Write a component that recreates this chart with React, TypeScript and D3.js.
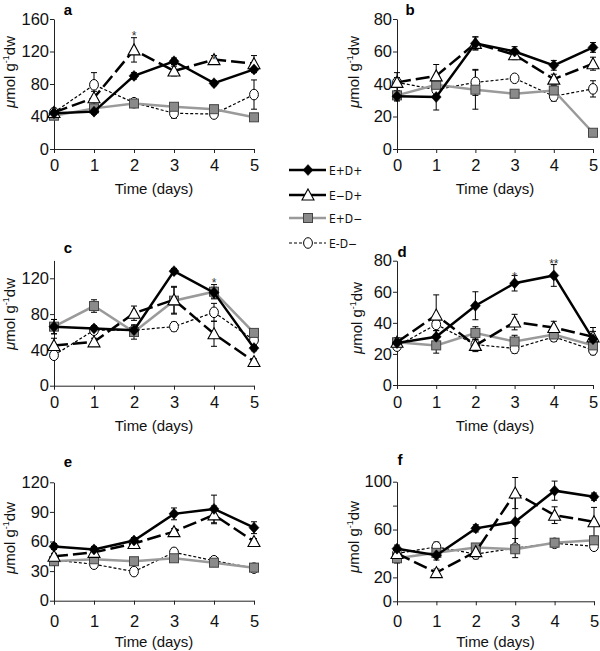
import React, { useEffect, useRef } from "react";
import * as d3 from "d3";

const days = [0, 1, 2, 3, 4, 5];
const seriesNames = ["E+D+", "E\u2212D+", "E+D\u2212", "E-D\u2212"];

// panel a
const aEpDp = [44, 46, 90, 108, 81, 98];
const aEmDp = [45, 63, 122, 96, 110, 105];
const aEpDm = [41, 50, 56, 52, 49, 39];
const aEmDm = [45, 79, 57, 44, 43, 67];
const aErrEpDp = [3, 3, 4, 4, 3, 4];
const aErrEmDp = [3, 8, 15, 6, 5, 10];
const aErrEpDm = [3, 4, 5, 4, 4, 3];
const aErrEmDm = [3, 15, 4, 6, 3, 18];

// panel b
const bEpDp = [32.5, 32, 65, 60, 51.5, 62.5];
const bEmDp = [41, 45, 65, 58, 43, 52.5];
const bEpDm = [33, 39.5, 36.5, 34, 36, 10];
const bEmDm = [41, 36.5, 41, 43.5, 32.5, 37];
const bErrEpDp = [3, 8, 4, 3, 3, 3];
const bErrEmDp = [3, 7, 4, 3, 3, 4];
const bErrEpDm = [3, 4, 12, 2, 3, 2];
const bErrEmDm = [6, 3, 8, 2, 3, 5];

// panel c
const cEpDp = [66, 64, 62, 128, 104, 42];
const cEmDp = [45, 49, 81, 96, 58, 27];
const cEpDm = [66, 89, 60, 95, 105, 59];
const cEmDm = [34, 62, 62, 66, 82, 51];
const cErrEpDp = [8, 3, 5, 3, 6, 3];
const cErrEmDp = [8, 4, 8, 15, 14, 3];
const cErrEpDm = [8, 7, 8, 15, 8, 4];
const cErrEmDm = [3, 3, 4, 5, 10, 3];

// panel d
const dEpDp = [27, 31, 51, 65.5, 70.5, 29.5];
const dEmDp = [27.5, 45, 25.5, 40.5, 37, 31];
const dEpDm = [27.5, 25.5, 33.5, 28, 32.5, 25.5];
const dEmDm = [25, 39, 26, 23.5, 31, 22.5];
const dErrEpDp = [3, 4, 9, 5, 7, 5];
const dErrEmDp = [3, 13, 4, 5, 4, 6];
const dErrEpDm = [3, 5, 4, 4, 3, 3];
const dErrEmDm = [2, 4, 3, 3, 3, 3];

// panel e
const eEpDp = [55, 52, 61, 88, 93, 74];
const eEmDp = [45, 49, 58, 70, 87, 60];
const eEpDm = [40, 42, 40, 43, 38.5, 33.5];
const eEmDm = [41, 37, 29.5, 49, 40.5, 33];
const eErrEpDp = [3, 3, 3, 6, 14, 6];
const eErrEmDp = [3, 3, 3, 3, 9, 3];
const eErrEpDm = [3, 3, 3, 3, 3, 3];
const eErrEmDm = [3, 4, 4, 4, 3, 3];

// panel f
const fEpDp = [44, 38.5, 61, 66.5, 92.5, 87.5];
const fEmDp = [40, 24, 41.5, 90.5, 72, 66.5];
const fEpDm = [36, 40.5, 45, 43.5, 49, 51];
const fEmDm = [40, 45.5, 39.5, 44.5, 48.5, 46];
const fErrEpDp = [3, 4, 3, 22, 8, 3];
const fErrEmDp = [3, 3, 3, 13, 7, 12];
const fErrEpDm = [4, 3, 3, 3, 3, 3];
const fErrEmDm = [3, 4, 4, 8, 3, 3];

const aTicks = [0, 40, 80, 120, 160];
const bTicks = [0, 20, 40, 60, 80];
const cTicks = [0, 40, 80, 120];
const dTicks = [0, 20, 40, 60, 80];
const eTicks = [0, 30, 60, 90, 120];
const fTicks = [0, 20, 40, 60, 80, 100];
const fTickLabels = [0, 20, 60, 100];

type Panel = {
  label: string;
  x0: number; x1: number; yTop: number; yBot: number; yMax: number;
  ticks: number[]; tickLabels?: number[];
  vals: number[][]; errs: number[][];
  tickLabelY: number; timeY: number; panelLabel: [number, number];
  yLabel: [number, number];
  stars: { day: number; text: string; y: number }[];
};

const panels: Panel[] = [
  { label: "a", x0: 54, x1: 254, yTop: 19, yBot: 149, yMax: 160, ticks: aTicks,
    vals: [aEpDp, aEmDp, aEpDm, aEmDm], errs: [aErrEpDp, aErrEmDp, aErrEpDm, aErrEmDm],
    tickLabelY: 171, timeY: 194, panelLabel: [68, 15], yLabel: [15, 72],
    stars: [{ day: 2, text: "*", y: 35 }, { day: 4, text: "*", y: 59 }] },
  { label: "b", x0: 397, x1: 593, yTop: 19, yBot: 149, yMax: 80, ticks: bTicks,
    vals: [bEpDp, bEmDp, bEpDm, bEmDm], errs: [bErrEpDp, bErrEmDp, bErrEpDm, bErrEmDm],
    tickLabelY: 171, timeY: 194, panelLabel: [410, 15], yLabel: [359, 72], stars: [] },
  { label: "c", x0: 54, x1: 254, yTop: 260.4, yBot: 385.7, yMax: 140, ticks: cTicks,
    vals: [cEpDp, cEmDp, cEpDm, cEmDm], errs: [cErrEpDp, cErrEmDp, cErrEpDm, cErrEmDm],
    tickLabelY: 408, timeY: 431, panelLabel: [68, 253], yLabel: [15, 314],
    stars: [{ day: 4, text: "*", y: 282 }] },
  { label: "d", x0: 397, x1: 593, yTop: 260.7, yBot: 385, yMax: 80, ticks: dTicks,
    vals: [dEpDp, dEmDp, dEpDm, dEmDm], errs: [dErrEpDp, dErrEmDp, dErrEpDm, dErrEmDm],
    tickLabelY: 408, timeY: 431, panelLabel: [402, 257], yLabel: [362, 318],
    stars: [{ day: 3, text: "*", y: 276 }, { day: 4, text: "**", y: 263 }] },
  { label: "e", x0: 54, x1: 254, yTop: 482.3, yBot: 600.7, yMax: 120, ticks: eTicks,
    vals: [eEpDp, eEmDp, eEpDm, eEmDm], errs: [eErrEpDp, eErrEmDp, eErrEpDm, eErrEmDm],
    tickLabelY: 627, timeY: 647, panelLabel: [68, 467], yLabel: [15, 538], stars: [] },
  { label: "f", x0: 397, x1: 594, yTop: 481.7, yBot: 601.3, yMax: 100, ticks: fTicks,
    tickLabels: fTickLabels,
    vals: [fEpDp, fEmDp, fEpDm, fEmDm], errs: [fErrEpDp, fErrEmDp, fErrEpDm, fErrEmDm],
    tickLabelY: 627, timeY: 647, panelLabel: [400, 465], yLabel: [359, 537], stars: [] },
];

const styles = [
  { stroke: "#000", width: 2.5, dash: null as string | null, marker: "diamond" },
  { stroke: "#000", width: 2.5, dash: "14,5", marker: "triangle" },
  { stroke: "#9a9a9a", width: 2.5, dash: null, marker: "square" },
  { stroke: "#000", width: 1.2, dash: "3,2", marker: "circle" },
];
const drawOrder = [3, 2, 1, 0];
const FONT = "'Liberation Sans', Arial, sans-serif";

function drawMarker(g: any, type: string, x: number, y: number) {
  if (type === "diamond") {
    g.append("path").attr("d", `M${x},${y - 5.5}L${x + 5},${y}L${x},${y + 5.5}L${x - 5},${y}Z`)
      .attr("fill", "#000").attr("stroke", "#000").attr("stroke-width", 0.5);
  } else if (type === "triangle") {
    g.append("path").attr("d", `M${x},${y - 6}L${x + 6},${y + 5}L${x - 6},${y + 5}Z`)
      .attr("fill", "#fff").attr("stroke", "#000").attr("stroke-width", 1.1);
  } else if (type === "square") {
    g.append("rect").attr("x", x - 4.5).attr("y", y - 4.5).attr("width", 9).attr("height", 9)
      .attr("fill", "#8a8a8a").attr("stroke", "#444").attr("stroke-width", 1);
  } else {
    g.append("ellipse").attr("cx", x).attr("cy", y).attr("rx", 4.4).attr("ry", 5.3)
      .attr("fill", "#fff").attr("stroke", "#000").attr("stroke-width", 1);
  }
}

export default function App() {
  const ref = useRef<SVGSVGElement>(null);
  useEffect(() => {
    const svg = d3.select(ref.current);
    svg.selectAll("*").remove();

    panels.forEach((p) => {
      const x = d3.scaleLinear().domain([0, 5]).range([p.x0, p.x1]);
      const y = d3.scaleLinear().domain([0, p.yMax]).range([p.yBot, p.yTop]);
      const g = svg.append("g");

      // y axis
      const ya = g.append("g").attr("transform", `translate(${p.x0},0)`)
        .call(d3.axisLeft(y).tickValues(p.ticks).tickSizeInner(4).tickSizeOuter(0)
          .tickFormat((d: any) => (p.tickLabels && !p.tickLabels.includes(d) ? "" : String(d))));
      ya.select(".domain").attr("stroke", "#222");
      ya.selectAll(".tick line").attr("stroke", "#222");
      ya.selectAll("text").attr("font-family", FONT).attr("font-size", 16.5).attr("fill", "#111").attr("x", -5);

      // x axis
      const xa = g.append("g").attr("transform", `translate(0,${p.yBot})`)
        .call(d3.axisBottom(x).tickValues(days).tickSizeInner(4).tickSizeOuter(0).tickFormat(d3.format("d")));
      xa.select(".domain").attr("stroke", "#222");
      xa.selectAll(".tick line").attr("stroke", "#222");
      xa.selectAll("text").attr("font-family", FONT).attr("font-size", 16.5).attr("fill", "#111")
        .attr("dy", null).attr("y", p.tickLabelY - p.yBot);

      // titles
      g.append("text").attr("x", (p.x0 + p.x1) / 2).attr("y", p.timeY).attr("text-anchor", "middle")
        .attr("font-family", FONT).attr("font-size", 15).attr("fill", "#111").text("Time (days)");
      g.append("text").attr("x", p.panelLabel[0]).attr("y", p.panelLabel[1]).attr("text-anchor", "middle")
        .attr("font-family", FONT).attr("font-size", 15).attr("font-weight", "bold").text(p.label);

      const yl = g.append("text")
        .attr("transform", `translate(${p.yLabel[0]},${p.yLabel[1]}) rotate(-90)`)
        .attr("text-anchor", "middle").attr("font-family", FONT).attr("font-size", 15).attr("fill", "#111");
      yl.append("tspan").attr("font-style", "italic").text("\u03bc");
      yl.append("tspan").text("mol g");
      yl.append("tspan").attr("font-size", 9).attr("dy", -6).text("-1");
      yl.append("tspan").attr("dy", 6).text("dw");

      // error bars
      drawOrder.forEach((si) => {
        const vals = p.vals[si];
        const errs = p.errs[si];
        const eg = g.append("g");
        vals.forEach((v, i) => {
          const cx = x(days[i]);
          const top = y(v + errs[i]);
          const bot = y(v - errs[i]);
          eg.append("line").attr("x1", cx).attr("x2", cx).attr("y1", top).attr("y2", bot)
            .attr("stroke", "#000").attr("stroke-width", 1);
          eg.append("line").attr("x1", cx - 3).attr("x2", cx + 3).attr("y1", top).attr("y2", top)
            .attr("stroke", "#000").attr("stroke-width", 1);
          eg.append("line").attr("x1", cx - 3).attr("x2", cx + 3).attr("y1", bot).attr("y2", bot)
            .attr("stroke", "#000").attr("stroke-width", 1);
        });
      });

      // lines and markers
      drawOrder.forEach((si) => {
        const st = styles[si];
        const vals = p.vals[si];
        const line = d3.line<number>().x((_, i) => x(days[i])).y((d) => y(d));
        const path = g.append("path").attr("d", line(vals) as string).attr("fill", "none")
          .attr("stroke", st.stroke).attr("stroke-width", st.width);
        if (st.dash) path.attr("stroke-dasharray", st.dash);
        const mg = g.append("g");
        vals.forEach((v, i) => drawMarker(mg, st.marker, x(days[i]), y(v)));
      });

      // significance stars
      p.stars.forEach((s) => {
        g.append("text").attr("x", x(s.day)).attr("y", s.y + 5).attr("text-anchor", "middle")
          .attr("font-family", FONT).attr("font-size", 12).attr("fill", "#333").text(s.text);
      });
    });

    // legend
    const legendY = [170, 195, 218, 243];
    const lg = svg.append("g");
    seriesNames.forEach((name, i) => {
      const st = styles[i];
      const ly = legendY[i];
      const l = lg.append("line").attr("x1", 289).attr("x2", 326).attr("y1", ly).attr("y2", ly)
        .attr("stroke", st.stroke).attr("stroke-width", st.width);
      if (st.dash && i !== 1) l.attr("stroke-dasharray", st.dash);
      drawMarker(lg, st.marker, 308, ly);
      lg.append("text").attr("x", 329).attr("y", ly + 4.5)
        .attr("font-family", "'Liberation Sans Narrow', 'DejaVu Sans Condensed', sans-serif")
        .attr("font-size", 12).attr("fill", "#111").text(name);
    });
  }, []);

  return (
    <svg ref={ref} width={600} height={651}
      style={{ position: "absolute", left: 0, top: 0, background: "#fff" }} />
  );
}
